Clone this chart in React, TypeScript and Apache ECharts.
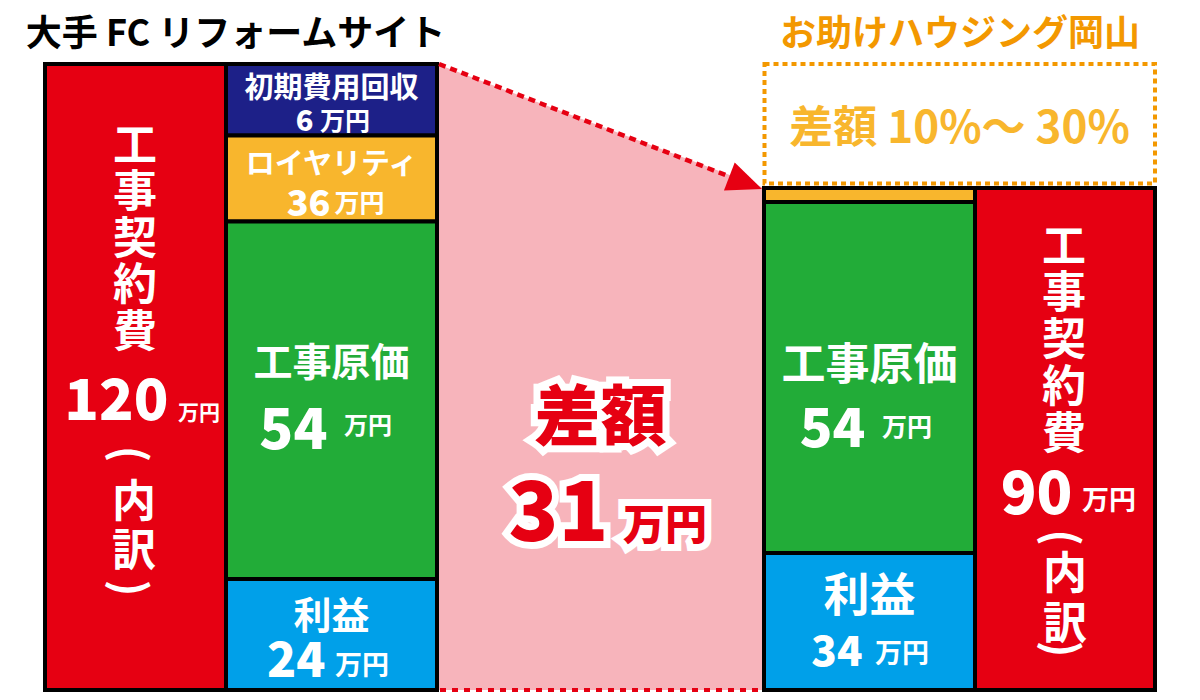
import React, { useEffect, useRef } from "react";
import * as echarts from "echarts";

// ---------------- data ----------------
const FC_NAME = "大手 FC リフォームサイト";
const OT_NAME = "お助けハウジング岡山";
const UNIT = "万円";
const TOTAL_LABEL = "工事契約費";
const BREAKDOWN = "内訳";

// stacks listed top -> bottom
const fcItems = ["初期費用回収", "ロイヤリティ", "工事原価", "利益"];
const fcValues = [6, 36, 54, 24];
const fcDrawn = [71.5, 86, 357.5, 111]; // block heights as drawn in the source (not to scale)
const fcTotal = 120;

const otItems = ["ロイヤリティ", "工事原価", "利益"];
const otValues = [2, 54, 34];
const otDrawn = [14, 351, 137];
const otTotal = 90;

const diffLabel = "差額";
const diffValue = 31;
const diffRate = "差額 10%〜 30%";

// ---------------- styles / layout ----------------
const FONT = '"Noto Sans CJK JP", "Noto Sans CJK SC", sans-serif';
const RED = "#E60012";
const PINK = "#F7B4BB";
const ORANGE_DARK = "#F39800";
const ORANGE = "#F8B62D";
const fcColors = ["#1D2088", ORANGE, "#22AC38", "#00A0E9"];
const otColors = [ORANGE, "#22AC38", "#00A0E9"];

const COLS = {
  fcTotal: [0, 181],
  fcStack: [181, 392],
  otStack: [719, 930],
  otTotal: [930, 1110],
};
const X_MAX = 1110;
const sum = (a: number[]) => a.reduce((s, v) => s + v, 0);
const fcH = sum(fcDrawn);
const otH = sum(otDrawn);

type L = { ny: number; ns: number; vx: number; vy: number; vs: number; ux: number; uy: number; us: number } | null;
const fcLayout: L[] = [
  { ny: -15, ns: 29, vx: -18, vy: 17.75, vs: 29, ux: -11.5, uy: 19.25, us: 25 },
  { ny: -17.5, ns: 29, vx: -1, vy: 21.5, vs: 36, ux: 3, uy: 22.5, us: 25 },
  { ny: -41, ns: 39, vx: -4, vy: 24.25, vs: 56, ux: 12.5, uy: 23.25, us: 24 },
  { ny: -22, ns: 38, vx: -6, vy: 21, vs: 48, ux: 3.5, uy: 29, us: 27 },
];
const otLayout: L[] = [
  null,
  { ny: -16.5, ns: 44, vx: -4, vy: 45.5, vs: 54, ux: 12.5, uy: 47.5, us: 25 },
  { ny: -30.5, ns: 46, vx: -7, vy: 25.5, vs: 42, ux: 5.5, uy: 29.5, us: 27 },
];

type Piece = { t: string; dx: number; dy: number; size: number; align?: string; rot?: number; lh?: number; w?: any };
type Block = { x0: number; x1: number; y0: number; y1: number; color: string; pieces: Piece[] };

function stackBlocks(items: string[], values: number[], drawn: number[], colors: string[], col: number[], layouts: L[]): Block[] {
  const out: Block[] = [];
  let top = sum(drawn);
  items.forEach((name, i) => {
    const y1 = top;
    const y0 = top - drawn[i];
    top = y0;
    const lay = layouts[i];
    const pieces: Piece[] = lay
      ? [
          { t: name, dx: 0, dy: lay.ny, size: lay.ns },
          { t: String(values[i]), dx: lay.vx, dy: lay.vy, size: lay.vs, align: "right", w: 900 },
          { t: UNIT, dx: lay.ux, dy: lay.uy, size: lay.us, align: "left" },
        ]
      : [];
    out.push({ x0: col[0], x1: col[1], y0, y1, color: colors[i], pieces });
  });
  return out;
}

function totalBlock(col: number[], height: number, value: number, k: any): Block {
  const R = -Math.PI / 2;
  return {
    x0: col[0],
    x1: col[1],
    y0: 0,
    y1: height,
    color: RED,
    pieces: [
      { t: TOTAL_LABEL.split("").join("\n"), dx: k.tx, dy: k.ty, size: 44, lh: k.tlh },
      { t: String(value), dx: k.vx, dy: k.vy, size: k.vs, align: "right", w: 900 },
      { t: UNIT, dx: k.ux, dy: k.uy, size: k.us, align: "left" },
      { t: "(", dx: k.px, dy: k.oy, size: 44, rot: R },
      { t: BREAKDOWN.split("").join("\n"), dx: k.bx, dy: k.by, size: 44, lh: k.blh },
      { t: ")", dx: k.px, dy: k.cy, size: 44, rot: R },
    ],
  };
}

const blocks: Block[] = [
  totalBlock(COLS.fcTotal, fcH, fcTotal, {
    tx: -0.5, ty: -142.2, tlh: 46.5, vx: 33, vy: 18, vs: 57, ux: 42.5, uy: 34, us: 21,
    px: -3, oy: 77, bx: -1.5, by: 145.5, blh: 49, cy: 211,
  }),
  ...stackBlocks(fcItems, fcValues, fcDrawn, fcColors, COLS.fcStack, fcLayout),
  ...stackBlocks(otItems, otValues, otDrawn, otColors, COLS.otStack, otLayout),
  totalBlock(COLS.otTotal, otH, otTotal, {
    tx: -1, ty: -102.8, tlh: 46.75, vx: 7.5, vy: 49.5, vs: 59, ux: 17, uy: 59.5, us: 27,
    px: 0, oy: 98.5, bx: 0, by: 156, blh: 50, cy: 210,
  }),
];

function textEl(x: number, y: number, p: Piece, fill: string, extra: any = {}) {
  const align = p.align || "center";
  return {
    type: "text",
    x,
    y,
    rotation: p.rot || 0,
    style: {
      text: p.t,
      fill,
      fontSize: p.size,
      fontWeight: p.w || "bold",
      fontFamily: FONT,
      align,
      textAlign: align,
      verticalAlign: "middle",
      textVerticalAlign: "middle",
      lineHeight: p.lh,
      ...extra,
    },
  };
}

export default function App() {
  const ref = useRef<HTMLDivElement>(null);
  useEffect(() => {
    document.body.style.margin = "0";
    if (!ref.current) return;
    const chart = echarts.init(ref.current, undefined, { renderer: "svg" });

    const diffPieces: Piece[] = [
      { t: diffLabel, dx: 0, dy: 34, size: 66, w: 900 },
      { t: String(diffValue), dx: 8, dy: 128, size: 82, align: "right", w: 900 },
      { t: UNIT, dx: 22.5, dy: 144.5, size: 42, align: "left", w: 900 },
    ];

    chart.setOption({
      animation: false,
      grid: { left: 45, right: 45, top: 64, bottom: 10 },
      xAxis: { type: "value", min: 0, max: X_MAX, show: false },
      yAxis: { type: "value", min: 0, max: fcH, show: false },
      graphic: [
        {
          type: "text",
          x: 235.5,
          y: 30,
          style: {
            text: FC_NAME, fill: "#000", fontSize: 36, fontWeight: "bold", fontFamily: FONT,
            align: "center", textAlign: "center", verticalAlign: "middle", textVerticalAlign: "middle",
          },
        },
        {
          type: "text",
          x: 960,
          y: 30,
          style: {
            text: OT_NAME, fill: ORANGE_DARK, fontSize: 36, fontWeight: "bold", fontFamily: FONT,
            align: "center", textAlign: "center", verticalAlign: "middle", textVerticalAlign: "middle",
          },
        },
      ],
      series: [
        {
          type: "custom",
          name: "diff-area",
          silent: true,
          clip: false,
          encode: { x: [0, 2], y: [1, 3] },
          data: [[COLS.fcStack[1], fcH, COLS.otStack[0], otH]],
          renderItem: (params: any, api: any) => {
            const a = api.coord([api.value(0), api.value(1)]);
            const b = api.coord([api.value(2), api.value(3)]);
            const c = api.coord([api.value(2), 0]);
            const d = api.coord([api.value(0), 0]);
            return {
              type: "polygon",
              shape: { points: [a, b, c, d] },
              style: { fill: PINK },
            };
          },
        },
        {
          type: "custom",
          name: "blocks",
          silent: true,
          clip: false,
          encode: { x: [0, 1], y: [2, 3] },
          data: blocks.map((b) => [b.x0, b.x1, b.y0, b.y1]),
          renderItem: (params: any, api: any) => {
            const blk = blocks[params.dataIndex];
            const tl = api.coord([api.value(0), api.value(3)]);
            const br = api.coord([api.value(1), api.value(2)]);
            const cx = (tl[0] + br[0]) / 2;
            const cy = (tl[1] + br[1]) / 2;
            const children: any[] = [
              {
                type: "rect",
                shape: { x: tl[0], y: tl[1], width: br[0] - tl[0], height: br[1] - tl[1] },
                style: { fill: blk.color, stroke: "#000", lineWidth: 4 },
              },
            ];
            blk.pieces.forEach((p) => children.push(textEl(cx + p.dx, cy + p.dy, p, "#fff")));
            return { type: "group", children };
          },
        },
        {
          type: "custom",
          name: "diff-marks",
          silent: true,
          clip: false,
          encode: { x: [0, 2], y: [1, 3] },
          data: [[COLS.fcStack[1], fcH, COLS.otStack[0], otH]],
          renderItem: (params: any, api: any) => {
            const a = api.coord([api.value(0), api.value(1)]);
            const b = api.coord([api.value(2), api.value(3)]);
            const c = api.coord([api.value(2), 0]);
            const d = api.coord([api.value(0), 0]);
            const boxTL = api.coord([api.value(2), api.value(1)]);
            const boxBR = api.coord([COLS.otTotal[1], api.value(3) + 4.5]);
            const tip = [b[0] - 2, b[1] + 1];
            const dx = tip[0] - a[0];
            const dy = tip[1] - a[1];
            const len = Math.sqrt(dx * dx + dy * dy);
            const ux = dx / len;
            const uy = dy / len;
            const base = [tip[0] - 35 * ux, tip[1] - 35 * uy];
            const px = -uy;
            const py = ux;
            const cx = (a[0] + b[0]) / 2;
            const cy = (a[1] + d[1]) / 2;
            const children: any[] = [
              {
                type: "line",
                shape: { x1: d[0] + 3, y1: d[1], x2: c[0] - 3, y2: c[1] },
                style: { stroke: RED, lineWidth: 4, lineDash: [6, 6] },
              },
              {
                type: "line",
                shape: { x1: a[0] + 2, y1: a[1], x2: base[0] - 2 * ux, y2: base[1] - 2 * uy },
                style: { stroke: RED, lineWidth: 4.5, lineDash: [7, 5] },
              },
              {
                type: "polygon",
                shape: {
                  points: [
                    tip,
                    [base[0] + 15 * px, base[1] + 15 * py],
                    [base[0] - 15 * px, base[1] - 15 * py],
                  ],
                },
                style: { fill: RED },
              },
              {
                type: "rect",
                shape: { x: boxTL[0] + 0.5, y: boxTL[1], width: boxBR[0] - boxTL[0] - 0.5, height: boxBR[1] - boxTL[1] },
                style: { fill: "none", stroke: ORANGE_DARK, lineWidth: 4, lineDash: [5, 4] },
              },
              textEl((boxTL[0] + boxBR[0]) / 2, (boxTL[1] + boxBR[1]) / 2, { t: diffRate, dx: 0, dy: 0, size: 44 }, ORANGE),
            ];
            diffPieces.forEach((p) =>
              children.push(textEl(cx + p.dx, cy + p.dy, p, "#fff", { stroke: "#fff", lineWidth: 14, lineJoin: "round" }))
            );
            diffPieces.forEach((p) => children.push(textEl(cx + p.dx, cy + p.dy, p, RED)));
            return { type: "group", children };
          },
        },
      ],
    });
    return () => chart.dispose();
  }, []);
  return <div ref={ref} style={{ width: 1200, height: 700 }} />;
}
